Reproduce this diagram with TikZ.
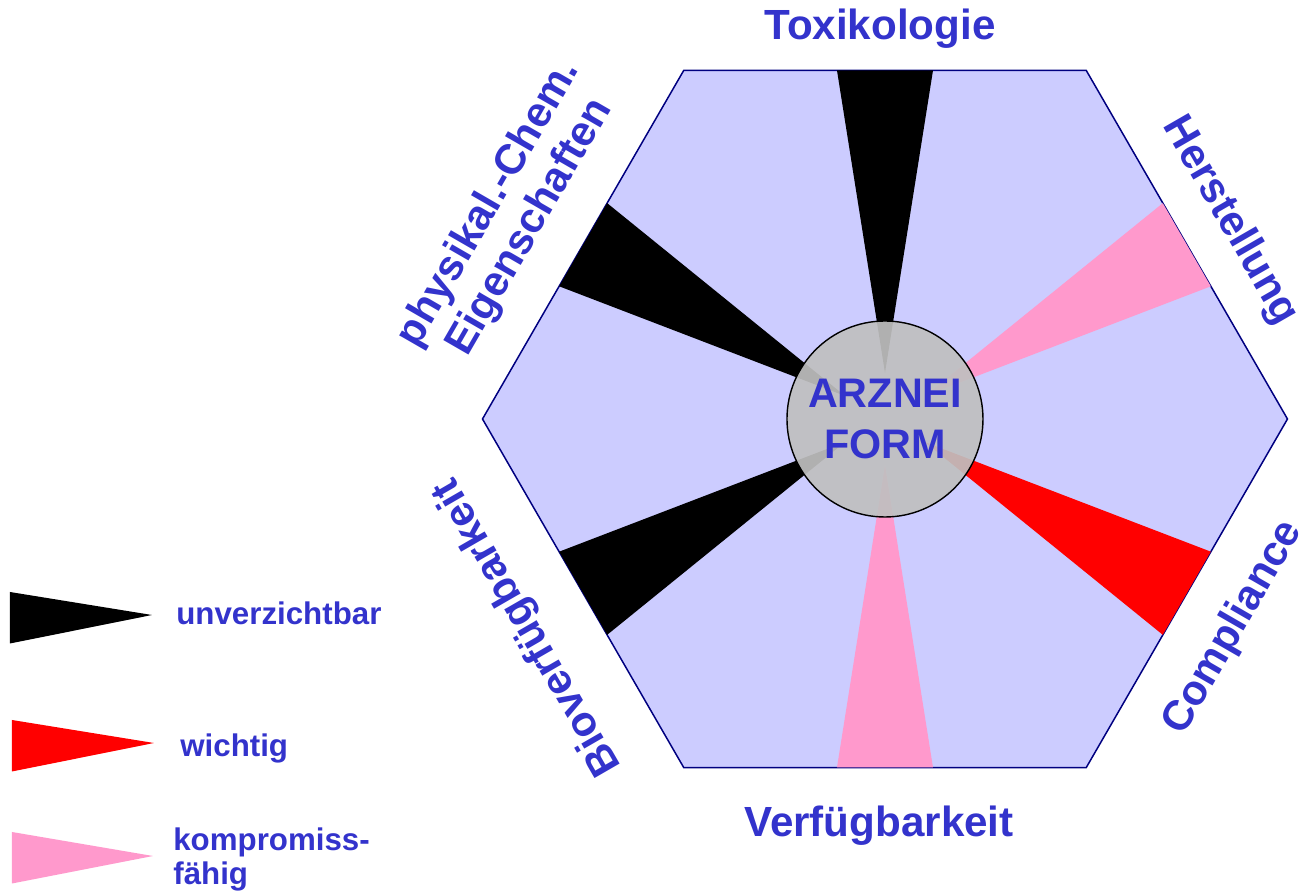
\documentclass[tikz,border=0pt]{standalone}
\usepackage{fontspec}
\setmainfont{Liberation Sans}
\usepackage{xcolor}
\usepackage{tikz}
\usetikzlibrary{calc, positioning}
\definecolor{textblau}{HTML}{3333CC}
\definecolor{hexfill}{HTML}{CCCCFF}
\definecolor{hexrand}{HTML}{000080}
\definecolor{rosa}{HTML}{FF99CC}
\definecolor{kreisgrau}{HTML}{C0C0C0}
\tikzstyle{titel} = [text=textblau, align=center,
	font=\fontsize{24}{27}\selectfont\bfseries]
\tikzstyle{legende} = [text=textblau, align=left, inner sep=0pt, anchor=base west,
	font=\fontsize{17.8}{19.8}\selectfont\bfseries]
\tikzstyle{kreis} = [circle, draw=black, line width=0.8pt,
	fill=kreisgrau, fill opacity=0.92, text opacity=1,
	minimum size=3.92cm, inner sep=0pt, text=textblau, align=center,
	font=\fontsize{23.5}{29}\selectfont\bfseries]
\newcommand{\drawwedge}[2]{\fill[#2] (#1:0.92) -- ($(#1:6.97)+(#1+90:0.96)$)
	-- ($(#1:6.97)+(#1-90:0.96)$) -- cycle}
\newcommand{\drawflag}[3]{\fill[#3] #1 -- ++(0,-1.03) -- #2 -- cycle}

\begin{document}
\begin{tikzpicture}
	\useasboundingbox (-17.7,-9.52) rectangle (8.5,8.38);
	% Sechseck
	\draw[hexrand, line width=0.85pt, fill=hexfill] (0:8.05) -- (60:8.05) -- (120:8.05)
		-- (180:8.05) -- (240:8.05) -- (300:8.05) -- cycle;
	% Keile
	\foreach \w/\farbe in {90/black, 30/rosa, -30/red, -90/rosa, -150/black, 150/black}
		\drawwedge{\w}{\farbe};
	\node (form) [kreis] at (0,0) {ARZNEI\\FORM};
	
	% Beschriftung
	\node (tox) [titel] at (-0.1,7.8) {Toxikologie};
	\node (verf) [titel] at (-0.12,-8.14) {Verfügbarkeit};
	\node (herst) [titel, rotate=-60] at (6.9,3.96) {Herstellung};
	\node (compl) [titel, rotate=60] at (6.97,-4.18) {Compliance};
	\node (biov) [titel, rotate=120] at (-7.14,-4.16) {Bioverfügbarkeit};
	\node (phys) [titel, rotate=60] at (-7.5,4.07) {physikal.-Chem.\\Eigenschaften};
	
	% Legende
	\drawflag{(-17.5,-3.46)}{(-14.66,-3.92)}{black};
	\drawflag{(-17.46,-6.02)}{(-14.62,-6.48)}{red};
	\drawflag{(-17.46,-8.26)}{(-14.64,-8.74)}{rosa};
	\node (unv) [legende] at (-14.18,-4.12) {unverzichtbar};
	\node (wicht) [legende] at (-14.1,-6.76) {wichtig};
	\node (komp) [legende] at (-14.24,-9.32) {kompromiss-\\fähig};
\end{tikzpicture}
\end{document}
